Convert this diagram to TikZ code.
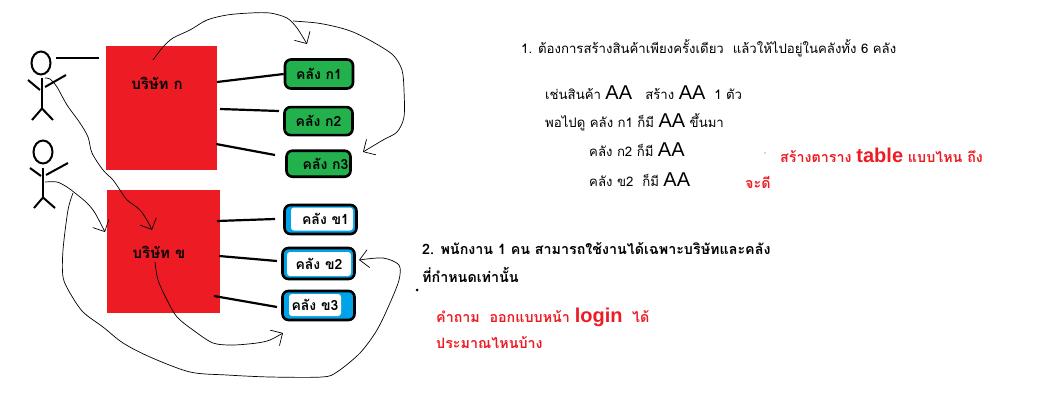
\documentclass[tikz,border=0pt]{standalone}
\usepackage{fontspec}
\setmainfont{Liberation Sans}
\newfontfamily\thaifont[Script=Thai]{Loma}
\newfontfamily\latinfont{Liberation Sans}
\newcommand{\bigword}[1]{{\latinfont\fontsize{20}{24}\selectfont #1}}
\usetikzlibrary{positioning,arrows.meta,shapes.geometric}
\definecolor{boxred}{HTML}{ED1C24}
\definecolor{boxgreen}{HTML}{22B14C}
\definecolor{boxblue}{HTML}{00A2E8}

\begin{document}
\begin{tikzpicture}[
    x=1pt, y=-1pt,
    company/.style={fill=boxred, minimum width=111pt, minimum height=124pt, inner sep=0pt},
    companytext/.style={font=\thaifont\fontsize{15}{17}\selectfont\bfseries},
    depotg/.style={draw, line width=2.6pt, rounded corners=6pt, fill=boxgreen, minimum width=68pt, minimum height=29pt, inner sep=0pt, font=\thaifont\fontsize{14}{16}\selectfont\bfseries},
    depotb/.style={draw, line width=2.6pt, rounded corners=6pt, fill=boxblue, minimum width=72pt, minimum height=29pt, inner sep=0pt},
    patch/.style={fill=white, rounded corners=3pt, inner sep=0pt, font=\thaifont\fontsize{14}{16}\selectfont\bfseries},
    head/.style={draw, ellipse, line width=2pt, inner sep=0pt, minimum width=19pt, minimum height=23pt},
    limb/.style={line width=2pt},
    link/.style={line width=2.2pt},
    sketch/.style={line width=0.7pt, smooth, -{Straight Barb[length=9pt,width=18pt]}},
    txt/.style={anchor=west, inner sep=0pt, font=\thaifont\fontsize{13.2}{16}\selectfont},
    txtb/.style={txt, font=\thaifont\fontsize{14.3}{16}\selectfont\bfseries},
    txtr/.style={txtb, text=boxred}
]
\useasboundingbox (0,0) rectangle (1055,420);

% actors
\node[head] (heada) at (41,63) {};
\draw[limb] (heada.south) ++(1,3) coordinate (necka) -- ++(0,30) coordinate (hipa);
\draw[limb] (28,80) -- (40,90);
\draw[limb] (45,87) -- (66,75);
\draw[limb] (hipa) -- (32,120);
\draw[limb] (hipa) -- (53,120);
\node[head] (headb) at (43,152) {};
\draw[limb] (headb.south) ++(0,3) coordinate (neckb) -- ++(0,30) coordinate (hipb);
\draw[limb] (30,168) -- (41,176);
\draw[limb] (46,175) -- (68,163);
\draw[limb] (hipb) -- (34,208);
\draw[limb] (hipb) -- (55,208);

% companies
\node[company] (coa) at (161.5,108) {};
\node[company, below=20pt of coa, xshift=2pt, minimum width=113pt, minimum height=123pt] (cob) {};
\node[companytext] (coalabel) at (157,83) {บริษัท ก};
\node[companytext] (coblabel) at (159,252) {บริษัท ข};

% depots
\node[depotg] (n1) at (319,74) {คลัง ก1};
\node[depotg, below=16pt of n1, xshift=-0.5pt, minimum height=28pt] (n2) {คลัง ก2};
\node[depotg, below=13pt of n2, minimum width=64pt, minimum height=26pt] (n3) {\hspace*{14pt}คลัง ก3};
\node[depotb] (v1) at (320.5,219.5) {};
\node[patch, minimum width=62pt, minimum height=23pt] (v1t) at (322,219) {\hspace*{7pt}คลัง ข1};
\node[depotb, minimum height=31pt] (v2) at (318.5,263.5) {};
\node[patch, minimum width=64pt, minimum height=24pt] (v2t) at (319,264) {คลัง ข2};
\node[depotb, minimum height=29pt] (v3) at (318.5,305.5) {};
\node[patch, minimum width=52pt, minimum height=22pt] (v3t) at (315,305) {คลัง ข3};

% links
\coordinate (n2end) at (279,111);
\coordinate (n3end) at (275,155);
\coordinate (v1end) at (275,219);
\coordinate (v2end) at (277,261);
\coordinate (v3end) at (277,307);
\coordinate (coatop) at (99,58);
\draw[link] (56,58) -- (coatop);
\draw[link] (217,82) -- (n1.west);
\draw[link] (220,109) -- (n2end);
\draw[link] (216,144) -- (n3end);
\draw[link] (217,221) -- (v1end);
\draw[link] (219,256) -- (v2end);
\draw[link] (214,296) -- (v3end);

% hand drawn curves
\draw[sketch] plot coordinates {(153,60) (163,47) (173,38) (190,30) (207,20) (227,15) (250,13) (270,13) (287,18) (297,28) (307,44)};
\draw[sketch] plot coordinates {(293,21) (317,23) (337,27) (353,32) (373,42) (393,55) (402,70) (404,90) (404,117) (397,132) (383,140) (363,152)};
\draw[sketch] plot coordinates {(45,78) (50,79) (57,87) (67,105) (80,123) (88,137) (92,153) (103,170) (113,180) (122,193) (127,200) (140,210) (148,222) (152,230)};
\draw[sketch] plot coordinates {(45,182) (57,182) (67,187) (75,193) (87,203) (95,213) (105,232)};
\draw[sketch] plot coordinates {(155,262) (158,280) (167,300) (177,317) (193,330) (213,343) (233,345) (257,343) (270,340) (283,333)};
\draw[sketch] plot coordinates {(73,193) (68,210) (63,250) (63,277) (70,293) (83,312) (103,327) (123,343) (150,357) (190,372) (227,375) (270,377) (322,377) (337,372) (360,353) (377,330) (390,303) (399,280) (399,265) (383,258) (359,260)};

% notes
\node[txt] (q1) at (521,48) {1. ต้องการสร้างสินค้าเพียงครั้งเดียว\ \ แล้วให้ไปอยู่ในคลังทั้ง 6 คลัง};
\node[txt] (ex1) at (545,93) {เช่นสินค้า \bigword{AA}\quad สร้าง \bigword{AA}\ \ 1 ตัว};
\node[txt] (ex2) at (545,122) {พอไปดู คลัง ก1 ก็มี \bigword{AA} ขึ้นมา};
\node[txt] (ex3) at (589,150) {คลัง ก2 ก็มี \bigword{AA}};
\node[txt] (ex4) at (589,180) {คลัง ข2\ \ ก็มี \bigword{AA}};
\node[txtr] (ask1) at (780,155) {สร้างตาราง \bigword{table} แบบไหน ถึง};
\node[txtr] (ask1b) at (745,182) {จะดี};
\node[txtb] (q2) at (422,249) {2. พนักงาน 1 คน สามารถใช้งานได้เฉพาะบริษัทและคลัง};
\node[txtb] (q2b) at (422,275) {ที่กำหนดเท่านั้น};
\node[txtr] (ask2) at (436,317) {คำถาม\ \ ออกแบบหน้า \bigword{login}\ \ ได้};
\node[txtr] (ask2b) at (436,343) {ประมาณไหนบ้าง};
\fill (417,290) circle (1.5pt);
\fill[boxred] (765,153) circle (0.6pt);
\end{tikzpicture}
\end{document}
